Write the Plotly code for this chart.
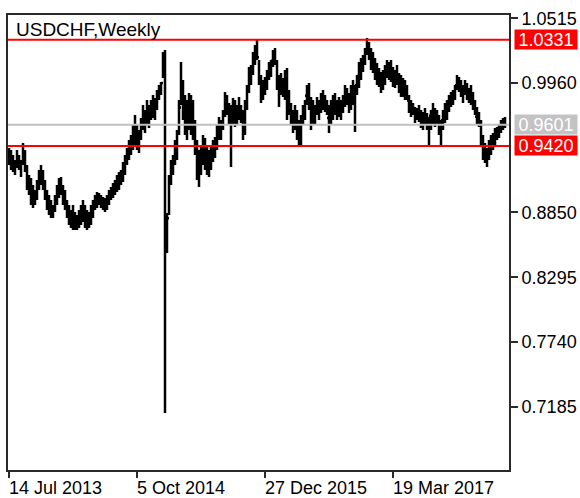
import pandas as pd
import plotly.graph_objects as go

# ---------------- data (weekly USDCHF) ----------------
start_date = "2013-07-14"
n_weeks = 249

highs = [
    .9403, .9386, .9343, .9300, .9386, .9343, .9300, .9446, .9386, .9257,
    .9171, .9146, .9085, .9043, .9128, .9214, .9257, .9214, .9128, .9043,
    .9000, .8957, .8914, .9000, .9085, .9146, .9154, .9085, .9043, .8957,
    .8914, .8871, .8914, .8854, .8828, .8871, .8914, .8957, .8914, .8871,
    .8854, .8914, .8957, .9000, .9025, .9017, .9000, .8983, .8974, .9000,
    .9043, .9068, .9103, .9128, .9171, .9197, .9214, .9283, .9343, .9403,
    .9471, .9514, .9600, .9686, .9600, .9557, .9660, .9772, .9729, .9814,
    .9772, .9814, .9857, .9832, .9900, .9943, .9969, 1.0226, 1.0243, .8845,
    .9171, .9300, .9343, .9471, .9557, .9814, 1.0140, .9986, .9857, .9814,
    .9874, .9857, .9814, .9643, .9471, .9386, .9429, .9514, .9489, .9429,
    .9386, .9429, .9471, .9497, .9600, .9669, .9643, .9729, .9883, .9857,
    .9789, .9772, .9832, .9814, .9772, .9840, .9772, .9729, .9814, .9943,
    1.0097, 1.0115, 1.0226, 1.0286, 1.0329, 1.0157, 1.0029, .9986, 1.0012, 1.0072,
    1.0140, 1.0157, 1.0243, 1.0260, 1.0157, 1.0029, 1.0046, 1.0003, 1.0072, 1.0089,
    .9900, .9789, .9729, .9772, .9729, .9643, .9686, .9772, .9814, .9943,
    .9960, .9840, .9814, .9772, .9840, .9814, .9874, .9900, .9857, .9814,
    .9772, .9814, .9857, .9874, .9814, .9840, .9814, .9857, .9943, .9917,
    .9874, .9943, .9986, .9943, 1.0029, 1.0140, 1.0175, 1.0200, 1.0260, 1.0346,
    1.0312, 1.0260, 1.0226, 1.0175, 1.0132, 1.0089, 1.0055, 1.0072, 1.0115, 1.0157,
    1.0140, 1.0157, 1.0097, 1.0072, 1.0115, 1.0046, 1.0029, 1.0003, .9986, .9943,
    .9857, .9814, .9789, .9754, .9746, .9772, .9729, .9712, .9746, .9703,
    .9669, .9729, .9789, .9746, .9729, .9686, .9643, .9729, .9789, .9814,
    .9857, .9883, .9900, .9943, 1.0029, 1.0012, .9986, .9943, .9986, .9960,
    .9917, .9943, .9883, .9814, .9754, .9712, .9643, .9514, .9446, .9403,
    .9471, .9514, .9531, .9574, .9583, .9600, .9643, .9660, .9669,
]

lows = [
    .9257, .9214, .9197, .9171, .9231, .9214, .9154, .9257, .9197, .9043,
    .9000, .8914, .8888, .8914, .8957, .9043, .9085, .9043, .8957, .8871,
    .8828, .8802, .8802, .8854, .8914, .8974, .9000, .8914, .8871, .8802,
    .8742, .8717, .8700, .8700, .8700, .8717, .8742, .8768, .8717, .8700,
    .8717, .8742, .8802, .8871, .8888, .8914, .8888, .8871, .8854, .8871,
    .8914, .8957, .8974, .9000, .9025, .9043, .9085, .9111, .9171, .9257,
    .9300, .9343, .9386, .9429, .9386, .9360, .9471, .9557, .9531, .9600,
    .9574, .9643, .9660, .9643, .9729, .9814, .9857, 1.0003, .7130, .8502,
    .8828, .9085, .9171, .9257, .9300, .9514, .9772, .9643, .9514, .9471,
    .9557, .9514, .9471, .9343, .9128, .9068, .9171, .9257, .9214, .9171,
    .9154, .9214, .9283, .9317, .9386, .9471, .9471, .9557, .9669, .9686,
    .9600, .9240, .9600, .9583, .9600, .9643, .9617, .9471, .9514, .9729,
    .9874, .9943, 1.0029, 1.0115, 1.0157, .9943, .9789, .9814, .9857, .9900,
    .9986, 1.0012, 1.0097, 1.0115, .9900, .9754, .9857, .9840, .9814, .9643,
    .9686, .9600, .9531, .9557, .9471, .9429, .9420, .9600, .9643, .9772,
    .9729, .9557, .9600, .9600, .9686, .9643, .9703, .9729, .9712, .9686,
    .9531, .9600, .9643, .9686, .9643, .9669, .9643, .9703, .9754, .9772,
    .9703, .9729, .9772, .9540, .9857, .9917, .9986, 1.0055, 1.0115, 1.0200,
    1.0157, 1.0072, 1.0046, .9986, .9943, .9926, .9874, .9900, .9943, 1.0003,
    .9986, .9969, .9926, .9917, .9943, .9874, .9840, .9840, .9814, .9814,
    .9703, .9669, .9686, .9617, .9643, .9626, .9574, .9557, .9600, .9557,
    .9420, .9557, .9600, .9583, .9600, .9514, .9420, .9557, .9617, .9643,
    .9712, .9754, .9772, .9814, .9900, .9883, .9840, .9789, .9857, .9814,
    .9789, .9772, .9729, .9686, .9600, .9583, .9411, .9300, .9274, .9240,
    .9300, .9343, .9386, .9429, .9471, .9489, .9531, .9557, .9574,
]

closes = [
    .931, .927, .924, .928, .929, .924, .928, .930, .921, .909,
    .904, .898, .899, .902, .910, .917, .913, .906, .898, .891,
    .887, .885, .889, .898, .905, .909, .903, .897, .889, .883,
    .879, .880, .878, .876, .879, .882, .885, .883, .879, .878,
    .882, .887, .893, .896, .897, .895, .893, .892, .893, .897,
    .901, .904, .907, .910, .913, .916, .920, .925, .932, .938,
    .943, .949, .955, .950, .947, .954, .964, .964, .969, .968,
    .972, .975, .974, .980, .987, .991, .996, 1.021, .859, .880,
    .914, .927, .932, .945, .953, .975, .990, .970, .962, .968,
    .969, .965, .952, .939, .918, .925, .936, .932, .930, .926,
    .932, .937, .941, .948, .956, .955, .962, .970, .978, .972,
    .966, .970, .972, .969, .973, .969, .964, .965, .978, .990,
    1.005, 1.010, 1.019, 1.025, 1.018, .997, .990, .994, .998, 1.005,
    1.008, 1.015, 1.020, 1.013, .993, .995, .992, .995, .990, .980,
    .972, .965, .967, .962, .955, .958, .966, .973, .985, .986,
    .976, .970, .968, .975, .973, .978, .980, .979, .975, .966,
    .970, .975, .978, .974, .976, .973, .978, .984, .985, .980,
    .983, .988, .985, .994, 1.002, 1.008, 1.014, 1.018, 1.025, 1.023,
    1.019, 1.012, 1.008, 1.004, 1.000, .996, .998, 1.004, 1.009, 1.007,
    1.008, 1.002, 1.000, 1.003, .996, .994, .990, .990, .988, .981,
    .975, .973, .970, .970, .970, .966, .963, .967, .963, .960,
    .968, .972, .966, .967, .962, .957, .964, .970, .973, .978,
    .982, .985, .988, .994, .995, .992, .988, .993, .990, .986,
    .988, .980, .975, .967, .964, .960, .945, .935, .932, .938,
    .942, .946, .950, .952, .955, .959, .962, .960, .9601,
]
first_open = 0.936

y_tick_values = [1.0515, 0.9960, 0.8850, 0.8295, 0.7740, 0.7185]
y_tick_labels = ["1.0515", "0.9960", "0.8850", "0.8295", "0.7740", "0.7185"]

x_tick_dates = ["2013-07-14", "2014-10-05", "2015-12-27", "2017-03-19"]
x_tick_labels = ["14 Jul 2013", "5 Oct 2014", "27 Dec 2015", "19 Mar 2017"]

resistance = 1.0331
support = 0.9420
last_price = 0.9601

title_text = "USDCHF,Weekly"

# ---------------- figure ----------------
dates = pd.date_range(start_date, periods=n_weeks, freq="7D")
opens = [first_open] + closes[:-1]

FONT = "Liberation Sans, Arial, sans-serif"
AXIS = "#2a2a2a"

fig = go.Figure()
fig.add_trace(go.Ohlc(
    x=dates, open=opens, high=highs, low=lows, close=closes,
    increasing=dict(line=dict(color="black", width=2.5)),
    decreasing=dict(line=dict(color="black", width=2.5)),
    tickwidth=0.5, showlegend=False, hoverinfo="skip",
))

x0 = pd.Timestamp(start_date) - pd.Timedelta(days=3.5)
x1 = pd.Timestamp(start_date) + pd.Timedelta(weeks=250)

# horizontal levels
for val, col in [(last_price, "#c0c0c0"), (resistance, "#ff0000"), (support, "#ff0000")]:
    fig.add_shape(type="line", xref="paper", x0=0, x1=1, yref="y", y0=val, y1=val,
                  line=dict(color=col, width=2), layer="above")

# price boxes on the right
for val, bg in [(last_price, "#c3c3c3"), (resistance, "#ff0000"), (support, "#ff0000")]:
    fig.add_annotation(xref="paper", x=1.0105, xanchor="left", yref="y", y=val,
                       yanchor="middle", text=f"{val:.4f}", showarrow=False,
                       bgcolor=bg, width=62, height=19, borderpad=0,
                       font=dict(family=FONT, size=18, color="white"))

# title inside the plot
fig.add_annotation(xref="paper", x=0.012, xanchor="left", yref="paper", y=0.969,
                   yanchor="middle", text=title_text, showarrow=False,
                   font=dict(family=FONT, size=19, color="black"))

# x labels, left aligned at their ticks
for d, t in zip(x_tick_dates, x_tick_labels):
    fig.add_annotation(xref="x", x=d, xanchor="left", xshift=-2, yref="paper", y=-0.04,
                       yanchor="middle", text=t, showarrow=False,
                       font=dict(family=FONT, size=18, color="black"))

fig.update_layout(
    width=580, height=498,
    margin=dict(l=8, r=71, t=15, b=28, autoexpand=False),
    paper_bgcolor="white", plot_bgcolor="white",
    font=dict(family=FONT, size=18, color="black"),
    showlegend=False,
)
fig.update_xaxes(
    type="date", range=[x0, x1], rangeslider=dict(visible=False),
    showgrid=False, zeroline=False, showline=True, linecolor=AXIS, linewidth=2,
    mirror=True, ticks="outside", ticklen=6, tickwidth=2, tickcolor=AXIS,
    tickvals=x_tick_dates, showticklabels=False, automargin=False,
)
fig.update_yaxes(
    side="right", range=[0.6642, 1.0543], showgrid=False, zeroline=False,
    showline=True, linecolor=AXIS, linewidth=2, mirror=True,
    ticks="outside", ticklen=7, tickwidth=2, tickcolor=AXIS,
    tickvals=y_tick_values, ticktext=y_tick_labels, automargin=False,
    tickfont=dict(family=FONT, size=18, color="black"),
)

fig.write_html(
    "out.html",
    config={"displayModeBar": False},
    post_script="document.body.style.margin='0';document.body.style.padding='0';",
)
